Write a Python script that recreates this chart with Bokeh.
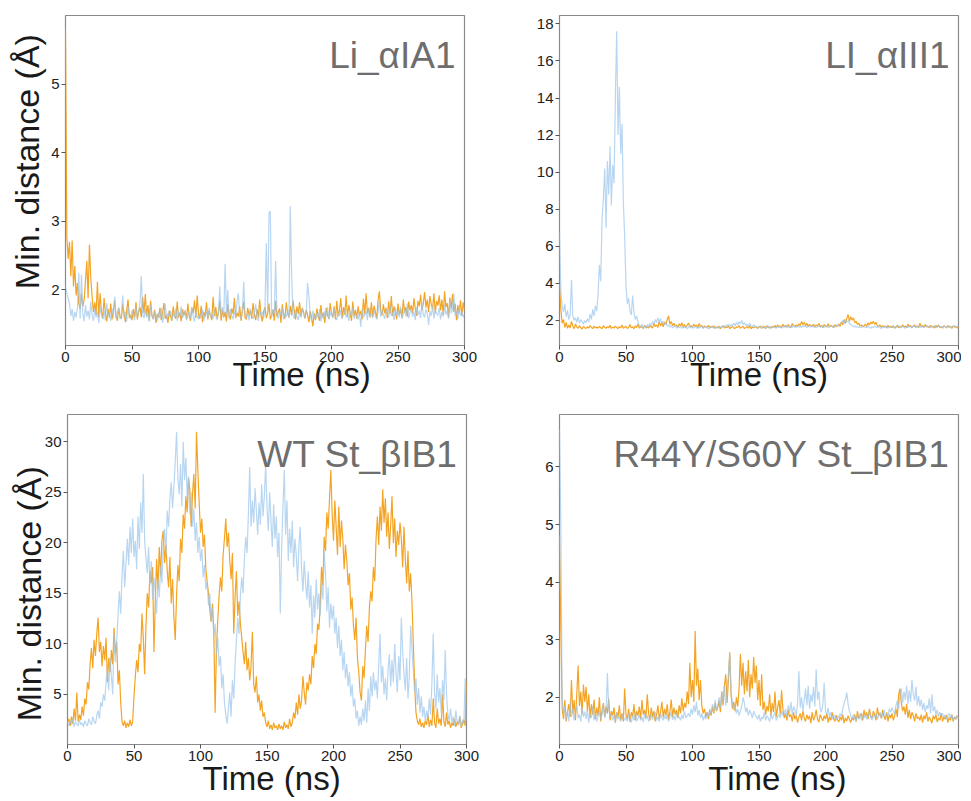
from bokeh.plotting import figure
from bokeh.layouts import column, row
from bokeh.models import Label, FixedTicker, Range1d
from bokeh.embed import file_html
from bokeh.resources import INLINE

# ---------------- data ----------------
time_ns = list(range(0, 301))

x_ticks = [0, 50, 100, 150, 200, 250, 300]

panel_titles = ["Li_\u03b1IA1", "LI_\u03b1III1", "WT St_\u03b2IB1", "R44Y/S60Y St_\u03b2IB1"]
x_label = "Time (ns)"
y_label = "Min. distance (\u00c5)"

li_aIA1_orange = [
    5.80, 2.78, 2.45, 2.70, 2.20, 2.72, 2.05, 2.35, 1.92, 2.10,
    1.80, 1.72, 1.95, 1.76, 1.85, 2.12, 2.42, 1.88, 2.66, 2.18,
    1.90, 1.68, 1.82, 1.64, 2.12, 1.60, 1.95, 1.70, 1.58, 1.88,
    1.66, 1.54, 1.72, 1.60, 1.80, 1.57, 1.69, 1.85, 1.62, 1.55,
    1.74, 1.61, 1.58, 1.79, 1.66, 1.53, 1.70, 1.86, 1.59, 1.64,
    1.56, 1.72, 1.61, 1.82, 1.57, 1.68, 1.75, 1.60, 1.90, 1.66,
    1.94, 1.62, 1.78, 1.55, 1.84, 1.63, 1.58, 1.71, 1.52, 1.65,
    1.60, 1.74, 1.56, 1.67, 1.81, 1.58, 1.63, 1.52, 1.70, 1.61,
    1.55, 1.76, 1.62, 1.58, 1.83, 1.60, 1.67, 1.54, 1.72, 1.63,
    1.69, 1.57, 1.80, 1.62, 1.55, 1.74, 1.66, 1.85, 1.59, 1.92,
    1.64, 1.58, 1.77, 1.53, 1.68, 1.61, 1.82, 1.57, 1.70, 1.63,
    1.56, 1.90, 1.62, 1.75, 1.58, 1.66, 1.84, 1.55, 1.71, 1.60,
    1.68, 1.54, 1.79, 1.62, 1.57, 1.73, 1.65, 1.88, 1.59, 1.67,
    1.61, 1.76, 1.55, 1.69, 1.83, 1.60, 1.57, 1.74, 1.63, 1.70,
    1.58, 1.81, 1.64, 1.56, 1.72, 1.60, 1.86, 1.62, 1.54, 1.69,
    1.75, 1.59, 1.66, 1.80, 1.57, 1.63, 1.71, 1.55, 1.84, 1.61,
    1.68, 1.73, 1.52, 1.79, 1.64, 1.58, 1.82, 1.66, 1.60, 1.77,
    1.63, 1.85, 1.70, 1.57, 1.76, 1.65, 1.82, 1.61, 1.74, 1.68,
    1.58, 1.71, 1.64, 1.53, 1.69, 1.60, 1.47, 1.66, 1.56, 1.73,
    1.62, 1.55, 1.78, 1.60, 1.67, 1.52, 1.74, 1.63, 1.58, 1.81,
    1.65, 1.60, 1.76, 1.57, 1.84, 1.62, 1.70, 1.88, 1.59, 1.75,
    1.64, 1.92, 1.61, 1.78, 1.67, 1.55, 1.83, 1.62, 1.71, 1.58,
    1.76, 1.63, 1.69, 1.57, 1.87, 1.64, 1.95, 1.66, 1.74, 1.60,
    1.82, 1.61, 1.77, 1.68, 1.58, 1.85, 1.98, 1.70, 1.63, 1.79,
    1.66, 1.74, 1.59, 1.83, 1.65, 1.91, 1.62, 1.76, 1.69, 1.57,
    1.80, 1.64, 1.72, 1.60, 1.86, 1.67, 1.75, 1.61, 1.83, 1.70,
    1.78, 1.66, 1.88, 1.72, 1.62, 1.84, 1.76, 1.93, 1.70, 1.80,
    1.97, 1.74, 1.86, 1.68, 1.91, 1.79, 1.72, 1.95, 1.66, 1.84,
    1.77, 1.92, 1.70, 1.86, 1.64, 1.98, 1.75, 1.81, 1.60, 1.89,
    1.73, 1.94, 1.68, 1.80, 1.56, 1.78, 1.66, 1.85, 1.62, 1.82,
    1.70]

li_aIA1_blue = [
    2.05, 1.95, 1.88, 1.80, 1.62, 1.72, 1.55, 1.68, 1.60, 1.74,
    2.25, 1.58, 2.22, 1.66, 1.54, 1.78, 1.61, 1.70, 1.57, 1.83,
    1.63, 1.55, 1.72, 1.60, 1.68, 1.52, 1.76, 1.64, 1.58, 1.70,
    1.56, 1.81, 1.62, 1.67, 1.55, 1.73, 1.60, 1.90, 1.58, 1.66,
    1.74, 1.57, 1.63, 1.92, 1.60, 1.68, 1.54, 1.77, 1.62, 1.58,
    1.70, 1.63, 1.56, 1.75, 1.61, 1.67, 1.82, 2.20, 1.65, 1.59,
    1.72, 1.60, 1.66, 1.54, 1.78, 1.62, 1.57, 1.69, 1.63, 1.55,
    1.67, 1.59, 1.74, 1.52, 1.64, 1.80, 1.58, 1.66, 1.61, 1.70,
    1.57, 1.65, 1.60, 1.73, 1.55, 1.68, 1.62, 1.76, 1.59, 1.64,
    1.71, 1.56, 1.63, 1.67, 1.58, 1.75, 1.61, 1.54, 1.69, 1.62,
    1.57, 1.66, 1.60, 1.72, 1.55, 1.64, 1.68, 1.59, 1.74, 1.61,
    1.65, 1.58, 1.70, 1.62, 1.56, 1.67, 2.05, 1.63, 1.75, 1.60,
    2.38, 1.66, 2.00, 1.59, 1.72, 1.63, 1.57, 1.69, 1.61, 1.84,
    1.95, 1.62, 1.58, 1.71, 2.12, 1.64, 1.60, 1.67, 1.56, 1.73,
    1.62, 1.58, 1.66, 1.79, 1.61, 1.55, 1.70, 1.63, 1.68, 1.59,
    1.75, 2.68, 1.64, 3.12, 3.15, 1.60, 1.72, 1.66, 2.42, 1.62,
    1.58, 1.69, 1.63, 1.74, 1.57, 1.66, 1.61, 1.70, 1.59, 3.22,
    2.25, 1.64, 1.58, 1.71, 1.62, 1.56, 1.68, 1.60, 1.73, 1.65,
    1.59, 1.67, 2.10, 1.90, 1.63, 1.55, 1.70, 1.61, 1.57, 1.66,
    1.60, 1.72, 1.54, 1.65, 1.58, 1.69, 1.62, 1.75, 1.57, 1.64,
    1.68, 1.59, 1.73, 1.61, 1.56, 1.66, 1.62, 1.70, 1.58, 1.64,
    1.71, 1.60, 1.66, 1.55, 1.69, 1.62, 1.74, 1.58, 1.65, 1.61,
    1.57, 1.67, 1.46, 1.72, 1.60, 1.64, 1.69, 1.56, 1.73, 1.62,
    1.66, 1.59, 1.71, 1.63, 1.57, 1.68, 1.84, 1.61, 1.70, 1.64,
    1.58, 1.72, 1.65, 1.60, 1.78, 1.62, 1.67, 1.56, 1.74, 1.63,
    1.69, 1.60, 1.76, 1.58, 1.65, 1.71, 1.62, 1.80, 1.59, 1.67,
    1.73, 1.61, 1.68, 1.56, 1.75, 1.63, 1.70, 1.59, 1.82, 1.64,
    1.60, 1.72, 1.66, 1.49, 1.69, 1.62, 1.77, 1.58, 1.71, 1.65,
    1.63, 1.74, 1.57, 1.68, 1.61, 1.79, 1.64, 1.70, 1.58, 1.86,
    1.66, 1.72, 1.95, 1.62, 1.69, 1.57, 1.74, 1.63, 1.68, 1.60,
    1.65]

li_aIII1_orange = [
    4.00, 2.60, 1.85, 2.05, 1.62, 1.90, 1.58, 1.75, 1.60, 1.95,
    1.70, 1.55, 1.82, 1.64, 1.58, 1.72, 1.60, 1.54, 1.68, 1.61,
    1.57, 1.66, 1.59, 1.73, 1.62, 1.56, 1.70, 1.60, 1.65, 1.58,
    1.68, 1.61, 1.55, 1.72, 1.63, 1.58, 1.66, 1.60, 1.74, 1.57,
    1.64, 1.59, 1.70, 1.62, 1.56, 1.67, 1.60, 1.75, 1.58, 1.63,
    1.69, 1.57, 1.62, 1.78, 1.60, 1.66, 1.55, 1.71, 1.62, 1.80,
    1.58, 1.68, 1.63, 1.57, 1.74, 1.61, 1.66, 1.59, 1.72, 1.64,
    1.60, 1.85, 1.67, 1.76, 1.62, 1.95, 1.70, 1.88, 1.66, 1.92,
    1.78, 2.05, 2.25, 1.80, 1.95, 1.72, 1.85, 1.68, 1.76, 1.63,
    1.82, 1.70, 1.88, 1.65, 1.78, 1.62, 1.74, 1.86, 1.66, 1.72,
    1.64, 1.80, 1.69, 1.75, 1.61, 1.84, 1.67, 1.72, 1.60, 1.70,
    1.66, 1.62, 1.74, 1.58, 1.68, 1.63, 1.71, 1.57, 1.65, 1.60,
    1.69, 1.56, 1.64, 1.72, 1.59, 1.66, 1.61, 1.70, 1.55, 1.63,
    1.68, 1.60, 1.57, 1.66, 1.62, 1.73, 1.58, 1.64, 1.69, 1.56,
    1.62, 1.67, 1.59, 1.71, 1.55, 1.65, 1.60, 1.68, 1.63, 1.57,
    1.64, 1.70, 1.58, 1.62, 1.67, 1.56, 1.72, 1.61, 1.66, 1.59,
    1.68, 1.63, 1.74, 1.60, 1.77, 1.65, 1.70, 1.62, 1.80, 1.67,
    1.73, 1.64, 1.78, 1.69, 1.62, 1.84, 1.71, 1.66, 1.76, 1.68,
    1.82, 1.72, 1.95, 1.78, 1.90, 1.70, 1.85, 1.67, 1.79, 1.73,
    1.68, 1.80, 1.65, 1.76, 1.70, 1.84, 1.66, 1.74, 1.62, 1.78,
    1.70, 1.66, 1.82, 1.64, 1.75, 1.69, 1.61, 1.77, 1.67, 1.72,
    1.80, 1.68, 1.92, 1.76, 2.05, 1.84, 2.10, 2.32, 1.95, 2.20,
    2.02, 2.15, 1.88, 1.96, 1.78, 1.85, 1.70, 1.76, 1.66, 1.72,
    1.80, 1.68, 1.88, 1.75, 1.92, 1.82, 1.96, 1.78, 1.90, 1.72,
    1.68, 1.76, 1.63, 1.72, 1.66, 1.70, 1.60, 1.74, 1.64, 1.69,
    1.62, 1.71, 1.58, 1.66, 1.74, 1.60, 1.68, 1.63, 1.77, 1.65,
    1.70, 1.61, 1.80, 1.66, 1.73, 1.62, 1.68, 1.76, 1.64, 1.71,
    1.60, 1.85, 1.67, 1.72, 1.63, 1.78, 1.66, 1.70, 1.61, 1.74,
    1.65, 1.69, 1.59, 1.73, 1.64, 1.76, 1.62, 1.68, 1.58, 1.72,
    1.66, 1.60, 1.74, 1.63, 1.69, 1.57, 1.71, 1.64, 1.67, 1.60,
    1.65]

li_aIII1_blue = [
    6.80, 3.60, 2.80, 2.45, 2.90, 2.20, 2.55, 2.05, 2.30, 4.20,
    2.25, 2.00, 2.15, 1.90, 2.20, 1.85, 2.05, 1.95, 1.80, 2.00,
    1.88, 2.10, 1.92, 2.35, 2.05, 2.60, 2.25, 2.80, 2.50, 3.40,
    5.00, 4.10, 7.50, 8.60, 10.20, 7.00, 10.60, 8.80, 11.40, 8.20,
    10.40, 9.40, 14.00, 17.60, 12.00, 14.60, 11.00, 12.60, 8.40, 6.50,
    3.90, 2.90, 3.20, 2.50, 2.30, 3.35, 2.40, 2.05, 2.25, 1.90,
    1.75, 1.65, 1.80, 1.60, 1.70, 1.58, 1.78, 1.66, 1.85, 1.72,
    1.95, 1.80, 2.05, 1.88, 2.15, 1.90, 2.10, 1.82, 1.96, 1.78,
    1.85, 1.70, 1.76, 1.64, 1.72, 1.60, 1.68, 1.75, 1.58, 1.66,
    1.62, 1.70, 1.57, 1.65, 1.60, 1.68, 1.55, 1.63, 1.67, 1.59,
    1.64, 1.58, 1.69, 1.61, 1.56, 1.66, 1.60, 1.72, 1.57, 1.63,
    1.68, 1.60, 1.55, 1.65, 1.62, 1.70, 1.58, 1.64, 1.61, 1.67,
    1.59, 1.66, 1.62, 1.71, 1.64, 1.75, 1.68, 1.80, 1.66, 1.78,
    1.72, 1.85, 1.70, 1.90, 1.76, 1.95, 1.82, 2.00, 1.78, 1.88,
    1.74, 1.80, 1.68, 1.85, 1.72, 1.66, 1.78, 1.64, 1.70, 1.62,
    1.68, 1.60, 1.65, 1.72, 1.58, 1.66, 1.62, 1.69, 1.57, 1.64,
    1.60, 1.67, 1.63, 1.58, 1.70, 1.62, 1.66, 1.59, 1.64, 1.68,
    1.61, 1.72, 1.65, 1.60, 1.68, 1.63, 1.75, 1.66, 1.62, 1.70,
    1.64, 1.69, 1.61, 1.74, 1.66, 1.70, 1.62, 1.67, 1.72, 1.65,
    1.70, 1.63, 1.68, 1.60, 1.66, 1.72, 1.64, 1.69, 1.61, 1.67,
    1.65, 1.71, 1.62, 1.68, 1.74, 1.66, 1.70, 1.63, 1.78, 1.69,
    1.75, 1.82, 1.90, 2.00, 1.86, 2.05, 1.92, 1.98, 1.84, 1.78,
    1.72, 1.66, 1.70, 1.63, 1.68, 1.60, 1.66, 1.62, 1.70, 1.64,
    1.67, 1.61, 1.69, 1.64, 1.58, 1.66, 1.62, 1.70, 1.65, 1.60,
    1.68, 1.63, 1.57, 1.66, 1.61, 1.69, 1.64, 1.59, 1.67, 1.62,
    1.70, 1.65, 1.60, 1.68, 1.63, 1.72, 1.66, 1.61, 1.69, 1.64,
    1.58, 1.67, 1.62, 1.70, 1.65, 1.60, 1.74, 1.66, 1.63, 1.69,
    1.64, 1.71, 1.61, 1.68, 1.62, 1.66, 1.70, 1.63, 1.67, 1.60,
    1.69, 1.64, 1.72, 1.61, 1.66, 1.75, 1.63, 1.68, 1.62, 1.70,
    1.66, 1.60, 1.73, 1.64, 1.69, 1.62, 1.67, 1.72, 1.65, 1.70,
    1.68]

wt_bIB1_orange = [
    2.2, 2.6, 1.9, 2.8, 2.1, 3.6, 2.4, 5.2, 2.3, 3.0,
    2.5, 3.8, 2.9, 4.6, 4.0, 6.2, 5.5, 8.0, 9.6, 7.6,
    10.4, 8.8, 11.0, 12.6, 9.2, 10.2, 7.8, 9.8, 8.4, 10.6,
    6.2, 8.6, 7.2, 9.4, 8.0, 11.6, 9.0, 10.2, 6.0, 7.4,
    4.2, 2.3, 1.9, 2.4, 1.7, 2.2, 1.8, 2.5, 1.9, 2.3,
    4.8, 6.8, 8.4, 7.2, 10.0, 9.2, 13.0, 10.6, 7.0, 11.8,
    15.0, 13.6, 17.2, 16.0, 17.6, 9.2, 14.2, 18.4, 15.4, 19.6,
    16.8, 20.2, 21.2, 18.0, 19.8, 17.2, 15.6, 18.6, 14.0, 16.4,
    12.6, 10.4, 14.8, 17.8, 16.2, 20.4, 19.0, 22.8, 21.4, 24.6,
    23.0, 26.4, 25.2, 21.6, 24.8, 26.8, 23.4, 31.0, 27.2, 24.0,
    21.0, 22.4, 19.6, 20.8, 17.4, 16.2, 15.0, 13.4, 12.2, 14.0,
    11.2, 3.2, 9.6, 12.4, 14.8, 16.6, 15.2, 18.8, 20.4, 22.4,
    19.6, 21.0, 18.2, 16.4, 19.0, 11.0, 14.6, 17.2, 12.8, 14.2,
    12.0, 10.6, 9.2, 8.0, 10.2, 7.4, 8.6, 6.4, 7.8, 11.2,
    6.0, 5.2, 6.8, 4.2, 5.0, 3.4, 4.4, 2.8, 3.2, 2.2,
    1.8, 2.4, 1.6, 2.0, 1.5, 2.2, 1.7, 1.9, 1.5, 2.1,
    1.6, 1.9, 1.5, 2.3, 1.7, 2.0, 1.6, 2.6, 1.8, 2.2,
    3.2, 2.6, 4.2, 3.0, 5.0, 3.6, 4.4, 6.8, 5.2, 4.0,
    6.2, 5.4, 7.0, 6.0, 8.8, 7.6, 10.0, 9.0, 12.0, 11.4,
    13.8, 17.6, 15.8, 20.6, 19.2, 23.0, 21.4, 24.4, 27.2, 22.8,
    20.2, 24.2, 21.6, 18.8, 23.6, 19.6, 22.2, 20.4, 17.4, 19.8,
    18.2, 15.8, 17.0, 13.4, 14.6, 11.8, 10.4, 12.6, 8.6, 7.2,
    5.2, 4.4, 7.8, 6.6, 9.4, 11.8, 10.2, 13.6, 15.2, 14.2,
    17.6, 16.2, 20.4, 22.6, 19.8, 23.6, 21.2, 25.3, 22.0, 24.4,
    20.6, 23.0, 19.4, 21.8, 24.6, 20.0, 22.4, 18.6, 21.2, 19.8,
    22.0, 20.4, 17.6, 21.6, 18.4, 16.0, 19.2, 15.2, 17.0, 14.2,
    10.0, 6.0, 3.2, 2.4, 2.0, 2.6, 1.8, 2.2, 1.7, 2.4,
    2.0, 3.0, 1.8, 2.5, 1.9, 4.6, 2.2, 1.7, 3.6, 2.1,
    2.6, 1.9, 5.0, 2.3, 1.8, 3.2, 2.0, 2.4, 1.7, 2.2,
    1.9, 2.6, 1.8, 2.3, 2.0, 2.8, 1.7, 2.1, 2.5, 1.9,
    6.2]

wt_bIB1_blue = [
    2.2, 1.9, 2.4, 2.0, 2.6, 1.8, 2.3, 2.1, 1.9, 2.5,
    2.0, 2.2, 1.8, 2.4, 2.1, 1.9, 2.6, 2.2, 2.0, 2.8,
    2.3, 2.1, 2.9, 3.4, 2.6, 4.2, 3.8, 5.0, 4.4, 6.2,
    7.6, 5.4, 8.6, 6.8, 5.0, 11.0, 8.2, 10.4, 12.8, 15.2,
    13.0, 16.8, 19.2, 15.6, 18.0, 20.4, 17.8, 21.6, 19.0, 22.4,
    18.6, 20.2, 17.4, 22.6, 19.4, 24.0, 21.0, 26.8, 20.2, 18.4,
    17.0, 19.6, 15.8, 18.2, 14.4, 16.6, 15.0, 13.0, 16.4, 14.6,
    17.6, 16.0, 19.8, 21.4, 18.8, 23.2, 21.6, 24.4, 26.0, 23.4,
    25.6, 28.0, 31.0, 26.4, 24.8, 27.8, 23.6, 30.0, 26.2, 28.4,
    24.4, 26.6, 22.8, 25.0, 21.6, 23.4, 20.2, 22.0, 19.0, 20.6,
    18.2, 19.4, 16.6, 17.8, 15.4, 16.2, 13.8, 15.0, 12.2, 13.6,
    10.8, 12.0, 9.0, 10.6, 7.8, 8.8, 5.6, 7.0, 4.2, 3.0,
    2.1, 3.6, 5.2, 2.8, 6.4, 4.6, 8.0, 10.4, 12.6, 11.0,
    14.8, 16.6, 15.0, 18.4, 20.6, 19.0, 22.8, 27.5, 21.6, 24.2,
    22.0, 25.4, 23.2, 20.8, 24.0, 21.8, 25.8, 22.6, 24.6, 27.8,
    23.4, 21.2, 25.0, 22.2, 19.6, 23.8, 20.4, 22.6, 18.6, 21.0,
    13.0, 19.4, 23.6, 27.2, 20.8, 24.2, 18.2, 21.4, 19.0, 22.2,
    17.6, 20.4, 18.8, 16.2, 19.8, 21.6, 17.4, 15.2, 18.2, 16.0,
    14.4, 17.2, 13.6, 15.8, 11.0, 14.8, 12.6, 16.4, 13.4, 15.0,
    12.8, 16.2, 14.4, 19.2, 17.0, 13.2, 15.6, 11.6, 14.0, 12.4,
    13.8, 11.0, 12.6, 9.6, 11.8, 8.8, 10.4, 7.4, 9.2, 6.6,
    8.0, 5.8, 7.2, 4.8, 6.0, 3.8, 4.6, 2.6, 3.4, 1.9,
    2.8, 2.0, 3.6, 2.4, 4.4, 2.2, 5.6, 3.4, 6.8, 4.8,
    7.2, 5.4, 6.4, 4.6, 8.0, 11.0, 6.2, 7.8, 5.0, 6.6,
    4.4, 7.4, 9.0, 5.8, 8.4, 6.2, 10.0, 7.2, 5.2, 8.8,
    6.4, 12.6, 9.2, 7.0, 5.4, 8.6, 4.6, 6.8, 11.8, 9.4,
    7.4, 5.2, 6.6, 4.0, 5.6, 3.2, 4.8, 2.8, 3.8, 2.4,
    3.4, 2.6, 4.6, 3.0, 6.2, 11.0, 5.0, 3.6, 7.0, 4.2,
    5.6, 3.2, 6.4, 4.4, 9.4, 5.0, 3.0, 2.4, 3.6, 2.2,
    2.8, 1.9, 3.4, 2.3, 2.0, 2.9, 1.8, 2.5, 2.1, 6.6,
    2.4]

mut_bIB1_orange = [
    4.80, 3.20, 1.80, 1.62, 1.95, 1.58, 1.74, 1.88, 1.66, 2.30,
    1.72, 1.95, 1.60, 2.05, 2.55, 1.85, 2.10, 1.70, 2.22, 1.92,
    2.18, 1.75, 2.05, 1.64, 1.88, 1.70, 1.96, 1.62, 1.82, 1.68,
    2.00, 1.58, 1.78, 1.90, 1.66, 1.84, 1.72, 1.98, 1.60, 1.76,
    1.68, 1.82, 1.56, 1.74, 1.65, 1.86, 1.60, 1.72, 1.58, 2.15,
    1.70, 1.62, 1.80, 1.57, 1.74, 1.66, 1.88, 1.60, 1.76, 1.68,
    1.84, 1.62, 1.95, 1.70, 1.78, 1.64, 2.05, 1.72, 1.60, 1.82,
    1.66, 1.76, 1.58, 1.70, 1.86, 1.62, 1.74, 1.92, 1.65, 1.80,
    1.68, 1.88, 1.61, 1.75, 1.96, 1.66, 1.82, 1.70, 1.78, 1.64,
    1.86, 1.72, 1.98, 1.76, 1.90, 1.82, 2.10, 1.88, 2.60, 2.00,
    2.30, 1.92, 3.15, 2.20, 2.50, 1.95, 2.30, 1.85, 1.72, 1.80,
    1.66, 1.74, 1.62, 1.78, 1.68, 1.84, 1.72, 1.90, 1.76, 1.82,
    1.94, 1.74, 2.10, 1.86, 2.20, 2.40, 1.90, 2.30, 2.78, 2.05,
    1.80, 1.92, 1.76, 2.00, 1.84, 2.15, 2.75, 2.20, 2.60, 2.05,
    2.45, 2.10, 2.65, 2.00, 2.40, 2.15, 2.70, 2.25, 2.55, 1.95,
    2.30, 1.85, 2.40, 1.78, 1.92, 1.70, 1.85, 1.76, 2.05, 1.68,
    1.90, 1.74, 2.10, 1.66, 1.82, 1.95, 1.70, 2.12, 1.78, 1.64,
    1.72, 1.60, 1.78, 1.66, 1.70, 1.58, 1.74, 1.62, 1.68, 1.56,
    1.66, 1.72, 1.60, 1.76, 1.64, 1.58, 1.70, 1.62, 1.68, 1.55,
    1.74, 1.60, 1.66, 1.78, 1.62, 1.57, 1.70, 1.64, 1.59, 1.68,
    1.62, 1.72, 1.56, 1.66, 1.60, 1.74, 1.63, 1.58, 1.69, 1.61,
    1.57, 1.66, 1.60, 1.70, 1.55, 1.64, 1.59, 1.68, 1.62, 1.56,
    1.65, 1.60, 1.70, 1.58, 1.76, 1.63, 1.68, 1.72, 1.60, 1.78,
    1.66, 1.74, 1.62, 1.80, 1.68, 1.64, 1.76, 1.70, 1.60, 1.82,
    1.68, 1.72, 1.63, 1.78, 1.66, 1.61, 1.74, 1.58, 1.70, 1.64,
    1.72, 1.60, 1.68, 1.80, 1.66, 2.05, 2.15, 1.90, 1.76, 1.84,
    1.70, 1.88, 1.64, 1.78, 1.62, 1.74, 1.68, 1.58, 1.72, 1.63,
    1.66, 1.60, 1.70, 1.56, 1.68, 1.62, 1.74, 1.58, 1.66, 1.61,
    1.55, 1.68, 1.62, 1.70, 1.57, 1.64, 1.60, 1.72, 1.58, 1.66,
    1.62, 1.69, 1.56, 1.65, 1.60, 1.70, 1.58, 1.66, 1.62, 1.68,
    1.64]

mut_bIB1_blue = [
    6.65, 5.00, 2.00, 1.70, 1.85, 1.62, 1.78, 1.58, 1.92, 1.66,
    1.80, 1.60, 1.74, 1.86, 1.64, 1.70, 1.58, 1.82, 1.66, 1.75,
    1.62, 1.78, 1.56, 1.70, 1.64, 1.84, 1.60, 1.72, 1.58, 1.68,
    1.76, 1.62, 1.70, 1.88, 1.64, 1.74, 2.42, 1.80, 1.66, 1.72,
    1.60, 1.68, 1.56, 1.74, 1.62, 1.66, 1.58, 1.70, 1.64, 1.60,
    1.66, 1.58, 1.72, 1.62, 1.56, 1.68, 1.60, 1.74, 1.58, 1.64,
    1.70, 1.60, 1.66, 1.57, 1.72, 1.62, 1.68, 1.58, 1.64, 1.70,
    1.61, 1.67, 1.74, 1.60, 1.66, 1.58, 1.72, 1.64, 1.60, 1.68,
    1.62, 1.70, 1.58, 1.66, 1.74, 1.61, 1.68, 1.60, 1.72, 1.64,
    1.66, 1.60, 1.70, 1.62, 1.76, 1.64, 1.68, 1.72, 1.66, 1.80,
    1.70, 1.86, 1.74, 1.92, 1.68, 1.78, 1.64, 1.72, 1.60, 1.68,
    1.62, 1.74, 1.66, 1.80, 1.70, 1.88, 1.74, 1.95, 1.78, 1.85,
    2.00, 1.82, 2.10, 1.90, 2.20, 1.86, 2.05, 2.40, 2.75, 2.10,
    1.90, 1.78, 1.86, 1.72, 1.80, 1.68, 1.76, 1.84, 2.00, 1.90,
    1.74, 1.82, 1.68, 1.78, 1.72, 1.64, 1.76, 1.70, 1.66, 1.62,
    1.70, 1.58, 1.66, 1.62, 1.74, 1.60, 1.68, 1.64, 1.58, 1.72,
    1.62, 1.68, 1.74, 1.60, 1.66, 1.70, 1.64, 1.76, 1.68, 1.72,
    1.80, 1.66, 1.86, 1.74, 1.92, 1.70, 1.84, 1.78, 1.68, 1.90,
    2.45, 1.82, 2.00, 1.76, 1.94, 2.15, 1.86, 2.20, 1.80, 2.05,
    1.92, 2.18, 1.84, 2.48, 1.96, 2.10, 1.80, 1.74, 1.88, 2.25,
    1.76, 1.70, 1.82, 1.66, 1.74, 1.62, 1.70, 1.66, 1.60, 1.68,
    1.64, 1.72, 1.66, 1.80, 1.90, 1.96, 2.08, 1.88, 1.76, 1.68,
    1.62, 1.70, 1.64, 1.58, 1.68, 1.62, 1.72, 1.60, 1.66, 1.64,
    1.70, 1.62, 1.68, 1.74, 1.64, 1.60, 1.70, 1.66, 1.72, 1.62,
    1.68, 1.74, 1.64, 1.70, 1.78, 1.66, 1.72, 1.68, 1.80, 1.74,
    1.82, 1.76, 1.70, 1.86, 1.94, 1.80, 2.05, 2.15, 1.90, 2.10,
    1.96, 2.20, 1.88, 2.12, 1.92, 2.30, 2.05, 1.94, 2.18, 1.86,
    2.02, 1.84, 1.96, 1.78, 1.90, 1.74, 1.86, 1.80, 1.98, 1.72,
    2.05, 1.76, 1.84, 1.70, 1.78, 1.66, 1.74, 1.68, 1.72, 1.64,
    1.70, 1.62, 1.68, 1.72, 1.64, 1.70, 1.60, 1.66, 1.62, 1.68,
    1.64]

y_ranges = [(1.19, 6.0), (0.65, 18.45), (0.05, 32.7), (1.18, 6.91)]
y_ticks = [[2, 3, 4, 5], [2, 4, 6, 8, 10, 12, 14, 16, 18],
           [5, 10, 15, 20, 25, 30], [2, 3, 4, 5, 6]]

# ---------------- style ----------------
ORANGE = "#F4A425"
BLUE = "#9CC6EB"
FONT = "Liberation Sans"
FW, FH = 399, 330
NB = "\u00a0"


def make_panel(idx, orange, blue, borders, xlab_shift, xlab_standoff,
               ylab=None):
    lft, rgt, top, bot = borders
    p = figure(frame_width=FW, frame_height=FH,
               x_range=Range1d(0, 300), y_range=Range1d(*y_ranges[idx]),
               output_backend="svg", toolbar_location=None, title=None,
               min_border_left=lft, min_border_right=rgt,
               min_border_top=top, min_border_bottom=bot)
    p.xgrid.visible = False
    p.ygrid.visible = False
    p.background_fill_color = "white"
    p.border_fill_color = "white"
    p.outline_line_color = "#8a8a8a"
    p.outline_line_width = 1.2

    p.line(time_ns, orange, line_color=ORANGE, line_width=1.2)
    p.line(time_ns, blue, line_color=BLUE, line_alpha=0.72, line_width=1.2)

    for ax, ticks in ((p.xaxis[0], x_ticks), (p.yaxis[0], y_ticks[idx])):
        ax.ticker = FixedTicker(ticks=ticks)
        ax.axis_line_color = None
        ax.major_tick_line_color = "#555555"
        ax.major_tick_out = 4
        ax.major_tick_in = 0
        ax.minor_tick_line_color = None
        ax.major_label_text_font = FONT
        ax.major_label_text_font_size = "15px"
        ax.major_label_text_color = "#222222"
        ax.major_label_standoff = 2
        ax.axis_label_text_font = FONT
        ax.axis_label_text_font_style = "normal"
        ax.axis_label_text_color = "#1a1a1a"

    # x axis title (leading no-break spaces shift it right of centre)
    xa = p.xaxis[0]
    xa.axis_label = NB * xlab_shift + x_label
    xa.axis_label_text_font_size = "33px"
    xa.axis_label_standoff = xlab_standoff

    if ylab is not None:
        lead, trail, standoff = ylab
        ya = p.yaxis[0]
        ya.axis_label = NB * lead + y_label + NB * trail
        ya.axis_label_text_font_size = "34px"
        ya.axis_label_standoff = standoff

    # panel name, top-right inside the frame
    p.add_layout(Label(x=300 - 9 * 300 / FW, y=FH - 40,
                       x_units="data", y_units="screen",
                       text=panel_titles[idx], text_align="right",
                       text_baseline="alphabetic", text_font=FONT,
                       text_font_size="37px", text_color="#6e6e6e"))
    return p


p1 = make_panel(0, li_aIA1_orange, li_aIA1_blue, (65, 16, 15, 62),
                8, -9, ylab=(4, 0, 2))
p2 = make_panel(1, li_aIII1_orange, li_aIII1_blue, (79, 3, 15, 62),
                0, -9)
p3 = make_panel(2, wt_bIB1_orange, wt_bIB1_blue, (67, 14, 7, 54),
                1, -4, ylab=(0, 3, -6))
p4 = make_panel(3, mut_bIB1_orange, mut_bIB1_blue, (79, 3, 7, 54),
                4, -4)

layout = column(row(p1, p2), row(p3, p4))

open("out.html", "w").write(file_html(layout, INLINE))
